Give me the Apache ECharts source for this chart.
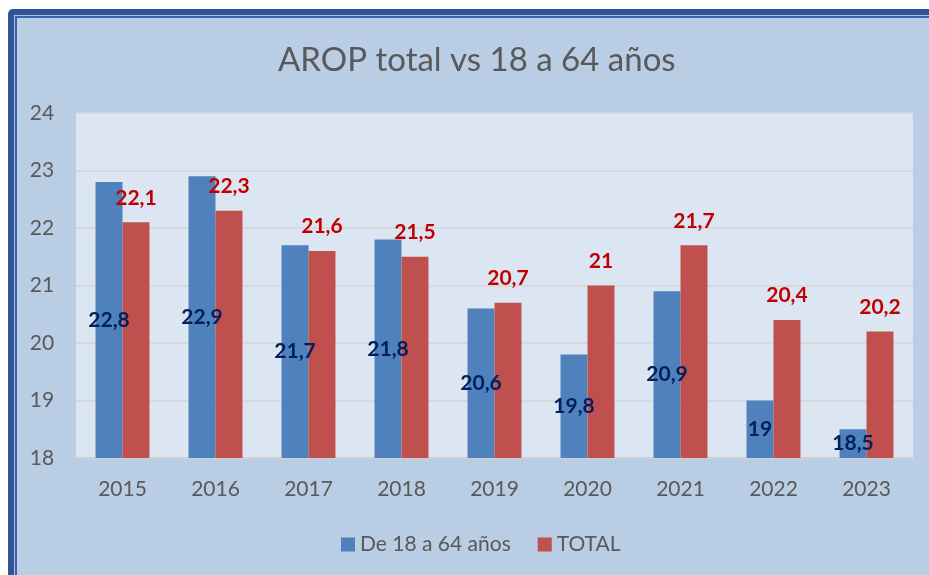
<!DOCTYPE html>
<html>
<head>
<meta charset="utf-8">
<script src="https://cdn.jsdelivr.net/npm/echarts@6/dist/echarts.min.js"></script>
<style>
  html, body { margin: 0; padding: 0; background: #fff; }
  #chart { width: 929px; height: 575px; }
</style>
</head>
<body>
<div id="chart"></div>
<script>
// data
var years = ['2015', '2016', '2017', '2018', '2019', '2020', '2021', '2022', '2023'];
var adults = [22.8, 22.9, 21.7, 21.8, 20.6, 19.8, 20.9, 19, 18.5];
var total = [22.1, 22.3, 21.6, 21.5, 20.7, 21, 21.7, 20.4, 20.2];
var yTicks = [18, 19, 20, 21, 22, 23, 24];

var font = 'Lato, Open Sans, sans-serif';
var fmt = function (p) { return String(p.value).replace('.', ','); };

var chartDom = document.getElementById('chart');
var myChart = echarts.init(chartDom);
var option;

option = {
    backgroundColor: '#fff',
    graphic: [
        // frame: thick dark line, light gap, thin dark line
        { type: 'rect', z: -10, shape: { x: 8, y: 9, width: 1000, height: 1000, r: 5 }, style: { fill: '#2F5597' } },
        { type: 'rect', z: -9, shape: { x: 14, y: 15, width: 1000, height: 1000 }, style: { fill: '#A9C0E2' } },
        { type: 'rect', z: -8, shape: { x: 15, y: 16, width: 1000, height: 1000 }, style: { fill: '#3A63A8' } },
        { type: 'rect', z: -7, shape: { x: 17, y: 18, width: 1000, height: 1000 }, style: { fill: '#B9CDE5' } }
    ],
    title: {
        text: 'AROP total vs 18 a 64 años',
        left: 273,
        top: 39,
        textStyle: { fontFamily: font, fontSize: 33, fontWeight: 'normal', color: '#595959' }
    },
    legend: {
        bottom: 15,
        left: 336,
        itemWidth: 14,
        itemHeight: 14,
        itemGap: 27,
        icon: 'rect',
        textStyle: { fontFamily: font, fontSize: 21, color: '#595959' },
        data: ['De 18 a 64 años', 'TOTAL']
    },
    grid: { left: 76, right: 16, top: 113, bottom: 117, backgroundColor: '#DCE6F2', show: true, borderWidth: 0 },
    xAxis: {
        type: 'category',
        data: years,
        axisTick: { show: false },
        axisLine: { lineStyle: { color: '#D0D0D0', width: 2 } },
        axisLabel: { fontFamily: font, fontSize: 21, color: '#595959', margin: 21 }
    },
    yAxis: {
        type: 'value',
        min: yTicks[0],
        max: yTicks[yTicks.length - 1],
        interval: 1,
        axisLine: { show: false },
        axisTick: { show: false },
        splitLine: { lineStyle: { color: '#D6D6D6', width: 1.5 } },
        axisLabel: { fontFamily: font, fontSize: 21, color: '#595959', margin: 34, align: 'center' }
    },
    series: [
        {
            name: 'De 18 a 64 años',
            type: 'bar',
            data: adults,
            barGap: '0%',
            barCategoryGap: '42%',
            itemStyle: { color: '#4F81BD' },
            label: {
                show: true,
                position: 'inside',
                formatter: fmt,
                fontFamily: font,
                fontSize: 21,
                fontWeight: 'bold',
                color: '#002060'
            }
        },
        {
            name: 'TOTAL',
            type: 'bar',
            data: total,
            itemStyle: { color: '#C0504D' },
            label: {
                show: true,
                position: 'top',
                distance: 14,
                formatter: fmt,
                fontFamily: font,
                fontSize: 21,
                fontWeight: 'bold',
                color: '#C00000'
            }
        }
    ]
};

option && myChart.setOption(option);
</script>
</body>
</html>
